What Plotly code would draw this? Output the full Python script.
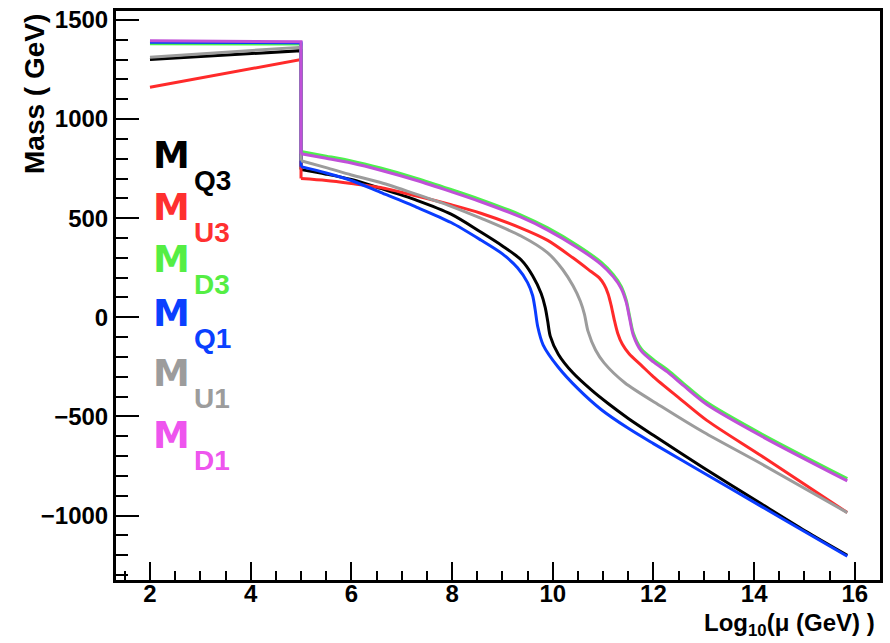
import plotly.graph_objects as go

# ---------------- data ----------------
names = ["MQ3", "MU3", "MD3", "MQ1", "MU1", "MD1"]
sub_labels = ["Q3", "U3", "D3", "Q1", "U1", "D1"]
line_colors = ["#000000", "#ff2a2a", "#4ef04e", "#0a3cff", "#9c9c9c", "#c050d8"]
legend_colors = ["#000000", "#ff3030", "#55ee44", "#0a40ff", "#9c9c9c", "#ee55ee"]

# segment below the threshold (log10 mu from 2 to 5)
x_high = [2, 5]
y_high = {
    "MQ3": [1300, 1345],
    "MU3": [1160, 1300],
    "MD3": [1380, 1378],
    "MQ1": [1388, 1385],
    "MU1": [1312, 1362],
    "MD1": [1395, 1390],
}

# segment above the threshold
x_low = {
    "MQ3": [5, 5.5, 6, 6.58, 7.3, 7.98, 8.57, 9.0, 9.37, 9.6, 9.77, 9.85, 9.9, 9.95, 10.11, 10.4, 10.76, 11.1, 11.5, 12, 13, 14.15, 15, 15.85],
    "MU3": [5, 5.5, 6, 6.58, 7.3, 7.98, 8.57, 9.37, 9.9, 10.4, 10.76, 10.92, 11.02, 11.1, 11.16, 11.22, 11.29, 11.38, 11.52, 11.75, 12.0, 12.5, 13.06, 14.15, 15.85],
    "MD3": [5, 5.5, 6, 6.58, 7.3, 7.98, 8.57, 9.37, 9.9, 10.5, 10.96, 11.2, 11.36, 11.46, 11.53, 11.6, 11.76, 12.0, 12.3, 12.6, 13.06, 14.15, 15.85],
    "MQ1": [5, 5.5, 6, 6.58, 7.3, 7.98, 8.57, 9.0, 9.3, 9.5, 9.6, 9.65, 9.7, 9.81, 10.11, 10.5, 10.96, 11.5, 12, 13, 14.15, 15, 15.85],
    "MU1": [5, 5.5, 6, 6.58, 7.3, 7.98, 8.57, 9.37, 9.9, 10.2, 10.4, 10.55, 10.63, 10.7, 10.85, 11.02, 11.43, 12.16, 13, 14.15, 15.85],
    "MD1": [5, 5.5, 6, 6.58, 7.3, 7.98, 8.57, 9.37, 9.9, 10.5, 10.96, 11.2, 11.36, 11.46, 11.53, 11.6, 11.76, 12.0, 12.3, 12.6, 13.06, 14.15, 15.85],
}
y_low = {
    "MQ3": [745, 722, 695, 650, 590, 520, 430, 360, 290, 210, 120, 50, -20, -95, -186, -280, -365, -435, -510, -595, -760, -942, -1075, -1200],
    "MU3": [700, 690, 675, 655, 612, 568, 525, 450, 388, 300, 231, 200, 165, 118, 60, -10, -80, -135, -185, -240, -300, -405, -520, -700, -985],
    "MD3": [836, 813, 789, 753, 701, 645, 594, 516, 451, 361, 278, 216, 156, 86, 1, -79, -160, -214, -269, -334, -429, -589, -814],
    "MQ1": [760, 728, 690, 630, 555, 478, 390, 320, 250, 175, 110, 40, -45, -140, -252, -360, -465, -560, -637, -785, -955, -1080, -1205],
    "MU1": [790, 755, 718, 680, 620, 560, 500, 410, 325, 240, 160, 80, 15, -70, -165, -230, -330, -450, -580, -740, -985],
    "MD1": [825, 802, 778, 742, 690, 634, 583, 505, 440, 350, 267, 205, 145, 75, -10, -90, -171, -225, -280, -345, -440, -600, -825],
}

x_ticks = [2, 4, 6, 8, 10, 12, 14, 16]
y_ticks = [-1000, -500, 0, 500, 1000, 1500]
x_range = [1.325, 16.5]
y_range = [-1325, 1545]

# ---------------- figure ----------------
W, H = 890, 643
L, R, T, B = 116, 10, 6, 63
pw, ph = W - L - R, H - T - B


def px(xp):
    return (xp - L) / pw


def py(yp):
    return (H - B - yp) / ph


fig = go.Figure()
for n, c in zip(names, line_colors):
    fig.add_trace(go.Scatter(
        x=x_high + [x_low[n][0]], y=y_high[n] + [y_low[n][0]],
        mode="lines", line=dict(color=c, width=3), showlegend=False, hoverinfo="skip"))
    fig.add_trace(go.Scatter(
        x=x_low[n], y=y_low[n], mode="lines",
        line=dict(color=c, width=3, shape="spline", smoothing=0.8),
        showlegend=False, name=n))

font_family = "Liberation Sans, Arial, Helvetica, sans-serif"
legend_family = "DejaVu Sans, Liberation Sans, sans-serif"

axis_common = dict(
    showgrid=False, zeroline=False, showline=True, linecolor="black", linewidth=3,
    mirror=True, ticks="inside", tickcolor="black", tickwidth=2,
    tickfont=dict(family=font_family, size=24, color="black", weight="bold"),
)
fig.update_xaxes(range=x_range, tickvals=x_ticks, ticklen=18, ticklabelstandoff=-10,
                 minor=dict(dtick=0.5, ticks="inside", ticklen=9, tickcolor="black", tickwidth=2),
                 **axis_common)
fig.update_yaxes(range=y_range, tickvals=y_ticks, ticklen=23,
                 minor=dict(dtick=100, ticks="inside", ticklen=12, tickcolor="black", tickwidth=2),
                 **axis_common)

annotations = []
m_tops = [138, 190, 243, 297, 358, 420]
for lab, col, top in zip(sub_labels, legend_colors, m_tops):
    annotations.append(dict(
        x=px(151), y=py(top + 14), xref="paper", yref="paper", xanchor="left", yanchor="middle",
        text="<b>M</b>", showarrow=False,
        font=dict(family=legend_family, size=37, color=col)))
    annotations.append(dict(
        x=px(192), y=py(top + 39), xref="paper", yref="paper", xanchor="left", yanchor="middle",
        text="<b>" + lab + "</b>", showarrow=False,
        font=dict(family=font_family, size=28, color=col)))

annotations.append(dict(
    x=px(35), y=py(7), xref="paper", yref="paper", xanchor="center", yanchor="top",
    text="<b>Mass ( GeV)</b>", textangle=-90, showarrow=False,
    font=dict(family=font_family, size=28, color="black")))
annotations.append(dict(
    x=px(877), y=py(643), xref="paper", yref="paper", xanchor="right", yanchor="bottom",
    text="<b>Log<sub>10</sub>(\u03bc (GeV) )</b>", showarrow=False,
    font=dict(family=font_family, size=24, color="black")))

fig.update_layout(
    width=W, height=H, margin=dict(l=L, r=R, t=T, b=B),
    paper_bgcolor="white", plot_bgcolor="white",
    annotations=annotations, showlegend=False,
)

fig.write_html("out.html")
